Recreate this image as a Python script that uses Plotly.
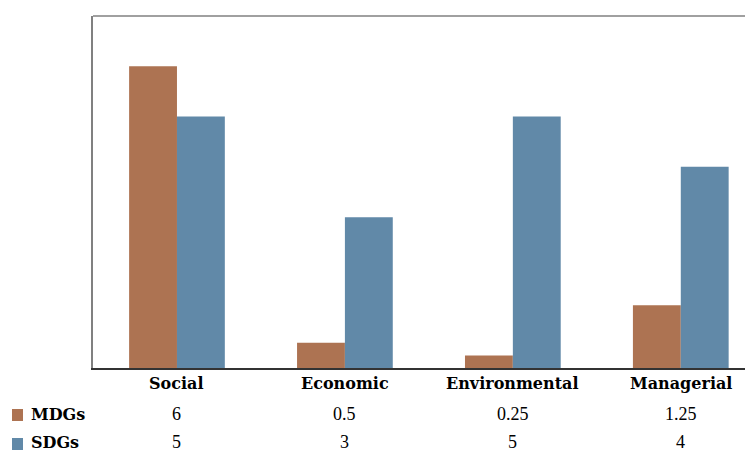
import plotly.graph_objects as go

categories = ["Social", "Economic", "Environmental", "Managerial"]
mdgs = [6, 0.5, 0.25, 1.25]
sdgs = [5, 3, 5, 4]
mdg_labels = ["6", "0.5", "0.25", "1.25"]
sdg_labels = ["5", "3", "5", "4"]

C_MDG = "#AD7352"
C_SDG = "#6189A8"
FONT_B = "DejaVu Serif"
FONT = "Liberation Serif"

# page offset compensation (body margin of 8px)
OFF = 8
W, HT = 753 - OFF, 453 - OFF
L, T, B = 93 - OFF, 16 - OFF, 453 - 368
PH = HT - T - B
PW = W - L

fig = go.Figure()
fig.add_trace(go.Bar(x=list(range(4)), y=mdgs, name="MDGs", marker=dict(color=C_MDG, line=dict(width=0))))
fig.add_trace(go.Bar(x=list(range(4)), y=sdgs, name="SDGs", marker=dict(color=C_SDG, line=dict(width=0))))

def py(p):
    return (368 - p) / PH
def px(p):
    return (p - 93) / PW

ROW0, ROW1, ROW2 = 383, 414, 442

ann = []
for i, c in enumerate(categories):
    ann.append(dict(x=i, y=py(ROW0), xref="x", yref="paper", text="<b>%s</b>" % c, showarrow=False,
                    font=dict(family=FONT_B, size=16, color="black"), xanchor="center", yanchor="middle"))
    ann.append(dict(x=i, y=py(ROW1), xref="x", yref="paper", text=mdg_labels[i], showarrow=False,
                    font=dict(family=FONT, size=18, color="black"), xanchor="center", yanchor="middle"))
    ann.append(dict(x=i, y=py(ROW2), xref="x", yref="paper", text=sdg_labels[i], showarrow=False,
                    font=dict(family=FONT, size=18, color="black"), xanchor="center", yanchor="middle"))
for name, yy in (("MDGs", ROW1), ("SDGs", ROW2)):
    ann.append(dict(x=px(29), y=py(yy), xref="paper", yref="paper", text="<b>%s</b>" % name, showarrow=False,
                    font=dict(family=FONT_B, size=16, color="black"), xanchor="left", yanchor="middle"))

shapes = [
    dict(type="line", xref="paper", yref="paper", x0=0, x1=1, y0=1, y1=1, line=dict(color="#808080", width=1.5)),
    dict(type="rect", xref="paper", yref="paper", x0=px(12), x1=px(23), y0=py(421), y1=py(409),
         fillcolor=C_MDG, line=dict(width=0)),
    dict(type="rect", xref="paper", yref="paper", x0=px(12), x1=px(23), y0=py(450), y1=py(438),
         fillcolor=C_SDG, line=dict(width=0)),
]

fig.update_layout(
    width=W, height=HT,
    margin=dict(l=L, r=0, t=T, b=B),
    paper_bgcolor="white", plot_bgcolor="white",
    barmode="group", bargap=0.43, bargroupgap=0,
    showlegend=False,
    xaxis=dict(range=[-0.5, 3.43], showticklabels=False, ticks="", showgrid=False, zeroline=False,
               showline=True, linecolor="#333333", linewidth=1.5),
    yaxis=dict(range=[0, 7], showticklabels=False, ticks="", showgrid=False, zeroline=False,
               showline=True, linecolor="#808080", linewidth=1.5),
    annotations=ann, shapes=shapes,
)
fig.write_html("out.html")
